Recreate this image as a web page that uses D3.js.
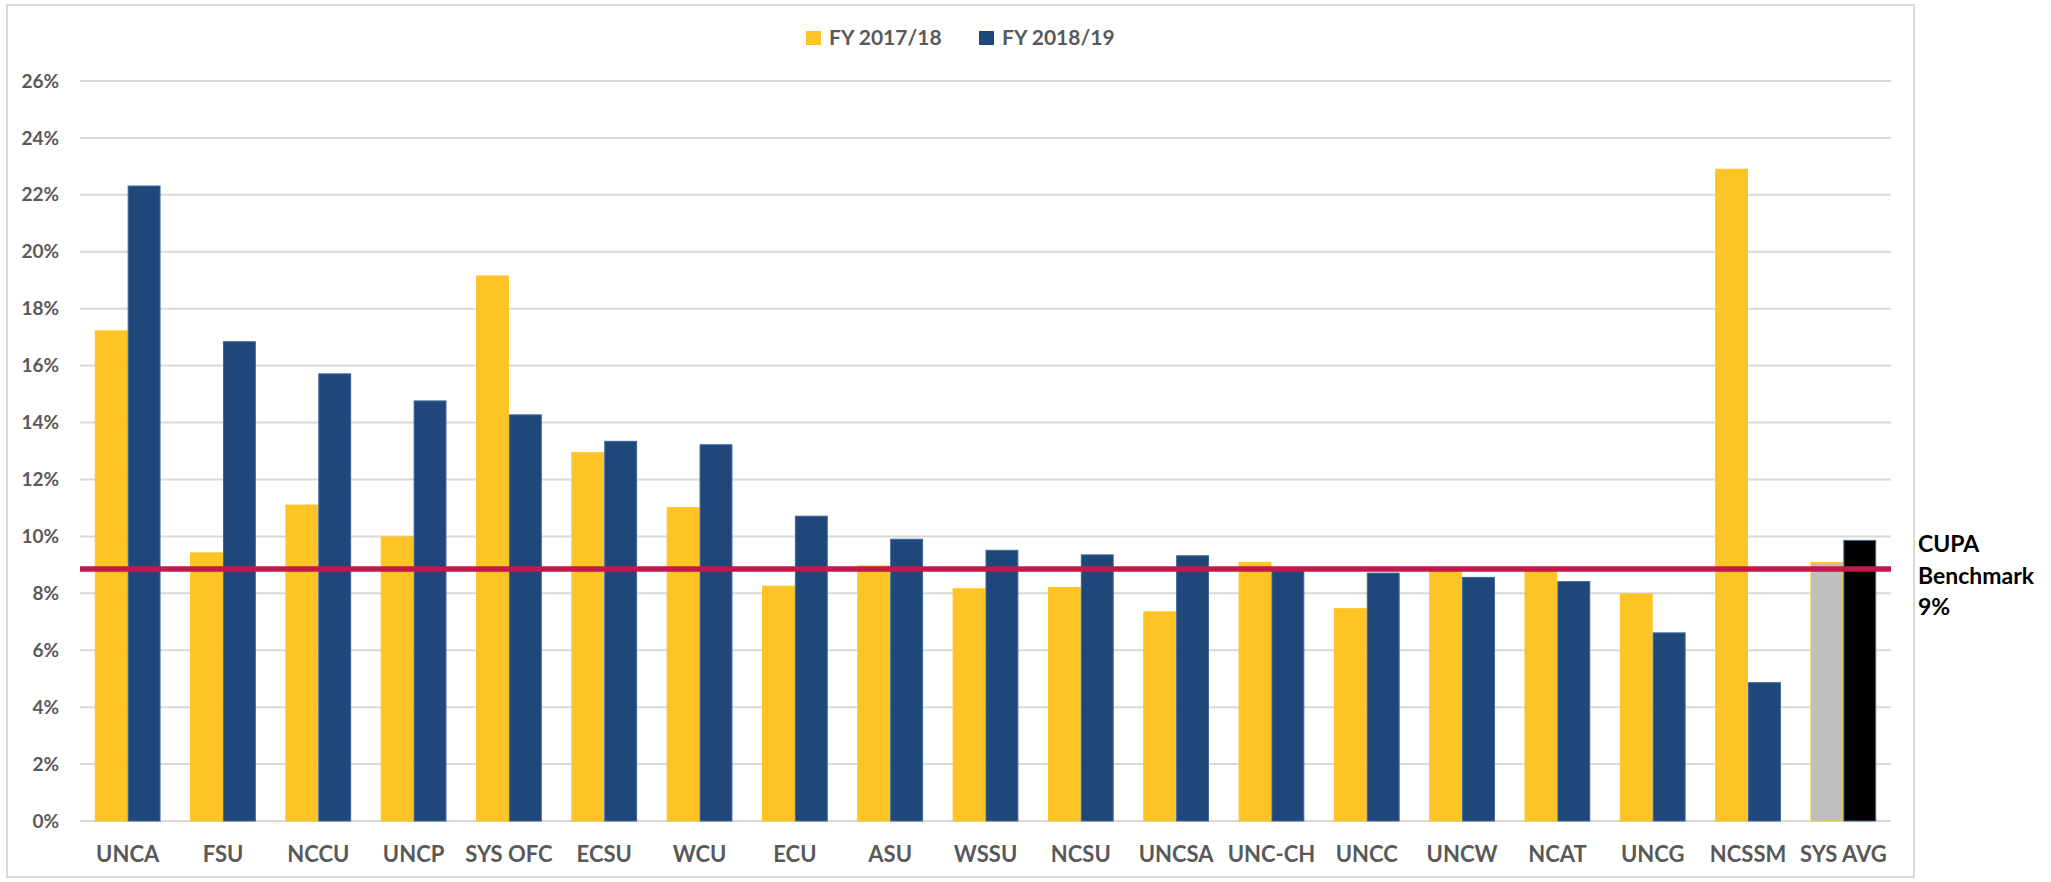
<!DOCTYPE html>
<html>
<head>
<meta charset="utf-8">
<script src="https://cdn.jsdelivr.net/npm/d3@7"></script>
<style>
  html, body { margin: 0; padding: 0; background: #fff; }
  svg { display: block; font-family: Lato, "Open Sans", sans-serif; }
</style>
</head>
<body>
<svg id="chart" width="2051" height="882"></svg>
<script>
const categories = ["UNCA","FSU","NCCU","UNCP","SYS OFC","ECSU","WCU","ECU","ASU","WSSU","NCSU","UNCSA","UNC-CH","UNCC","UNCW","NCAT","UNCG","NCSSM","SYS AVG"];
const fy1718 = [17.22, 9.42, 11.1, 9.98, 19.15, 12.94, 11.01, 8.25, 8.96, 8.16, 8.2, 7.35, 9.09, 7.46, 8.9, 8.88, 7.98, 22.9, 9.08];
const fy1819 = [22.31, 16.84, 15.71, 14.76, 14.27, 13.34, 13.22, 10.71, 9.9, 9.51, 9.35, 9.32, 8.85, 8.71, 8.56, 8.41, 6.61, 4.86, 9.86];
const seriesNames = ["FY 2017/18", "FY 2018/19"];
const yTicks = [0, 2, 4, 6, 8, 10, 12, 14, 16, 18, 20, 22, 24, 26];
const benchmark = 8.85;
const benchmarkLabel = ["CUPA", "Benchmark", "9%"];

const colors = ["#FEC325", "#1F477A"];
const strokes = ["#FEC325", "#3F679C"];
const avgFills = ["#BFBFBF", "#000000"];

const svg = d3.select("#chart");

// outer border
svg.append("rect").attr("x", 7).attr("y", 5).attr("width", 1907).attr("height", 872)
  .attr("fill", "none").attr("stroke", "#D9D9D9").attr("stroke-width", 2);

const x0 = d3.scaleBand().domain(categories).range([80, 1891]).paddingInner(0.31).paddingOuter(0.155);
const x1 = d3.scaleBand().domain([0, 1]).range([0, x0.bandwidth()]);
const y = d3.scaleLinear().domain([0, 26]).range([821, 81]);

// gridlines
svg.append("g").selectAll("line").data(yTicks).join("line")
  .attr("x1", 80).attr("x2", 1891)
  .attr("y1", d => y(d)).attr("y2", d => y(d))
  .attr("stroke", "#D9D9D9").attr("stroke-width", 2);

// y axis labels
const yAxis = d3.axisLeft(y).tickValues(yTicks).tickFormat(d => d + "%").tickSize(0).tickPadding(0);
const yg = svg.append("g").attr("transform", "translate(59,0)").call(yAxis);
yg.select(".domain").remove();
yg.selectAll("text").attr("fill", "#595959").attr("font-size", 19).attr("font-weight", 700)
  .attr("font-family", "Lato, sans-serif");

// bars
const groups = svg.append("g").selectAll("g").data(categories).join("g")
  .attr("transform", d => `translate(${x0(d)},0)`);
groups.selectAll("rect").data((d, i) => [
  { s: 0, v: fy1718[i], avg: d === "SYS AVG" },
  { s: 1, v: fy1819[i], avg: d === "SYS AVG" }
]).join("rect")
  .attr("x", d => x1(d.s) + 0.5)
  .attr("width", x1.bandwidth() - 1)
  .attr("y", d => y(d.v))
  .attr("height", d => y(0) - y(d.v))
  .attr("fill", d => d.avg ? avgFills[d.s] : colors[d.s])
  .attr("stroke", d => strokes[d.s])
  .attr("stroke-width", 1);

// benchmark line
svg.append("line")
  .attr("x1", 80).attr("x2", 1891)
  .attr("y1", y(benchmark)).attr("y2", y(benchmark))
  .attr("stroke", "#C4174B").attr("stroke-width", 5.5);

// x axis labels
const xAxis = d3.axisBottom(x0).tickSize(0).tickPadding(0);
const xg = svg.append("g").attr("transform", "translate(0,846)").call(xAxis);
xg.select(".domain").remove();
xg.selectAll("text").attr("fill", "#595959").attr("font-size", 22).attr("font-weight", 700)
  .attr("font-family", "Lato, sans-serif").attr("dy", "0.71em");

// legend
const legend = svg.append("g");
const legX = [806, 979];
seriesNames.forEach((n, i) => {
  legend.append("rect").attr("x", legX[i]).attr("y", 31).attr("width", 15).attr("height", 14)
    .attr("fill", colors[i]);
  legend.append("text").attr("x", legX[i] + 23).attr("y", 45).text(n)
    .attr("fill", "#595959").attr("font-size", 21).attr("font-weight", 700);
});

// benchmark annotation
svg.append("g").selectAll("text").data(benchmarkLabel).join("text")
  .attr("x", 1918).attr("y", (d, i) => 552 + i * 31.5)
  .text(d => d)
  .attr("fill", "#000").attr("font-size", 23).attr("font-weight", 700);
</script>
</body>
</html>
